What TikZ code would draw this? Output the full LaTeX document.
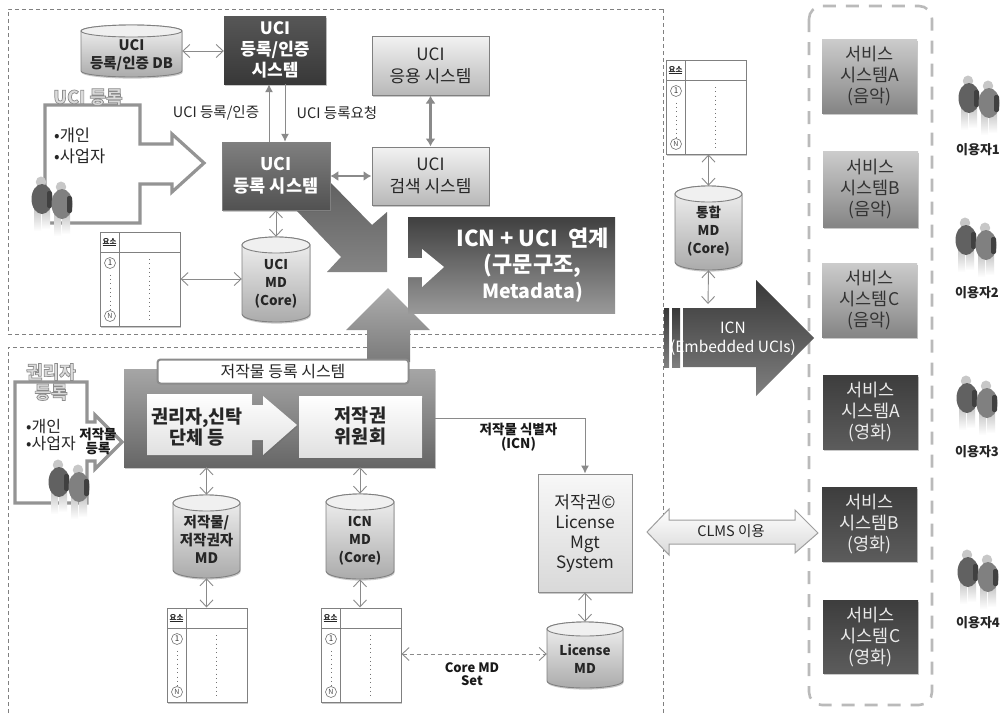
\documentclass[tikz,border=0pt]{standalone}
\usepackage{fontspec}
\setmainfont{Noto Sans CJK KR}
\usetikzlibrary{arrows.meta,shadows,calc}
\newcommand{\fs}[2]{\fontsize{#1}{#2}\selectfont}
\newcommand{\glowtext}[1]{\special{pdf:code q 2 Tr 0.7 w 0.55 G 0.86 g}#1\special{pdf:code Q}}
\definecolor{ln}{HTML}{8A8A8A}
\tikzset{
  x=1pt,y=-1pt,
  softshadow/.style={drop shadow={shadow xshift=0.6pt,shadow yshift=-1.6pt,opacity=.35,fill=black!60}},
  basebox/.style={rectangle,inner sep=0pt,align=center,softshadow},
  darkbox/.style={basebox,top color=black!66,bottom color=black!78,text=white},
  midbox/.style={basebox,draw=black!50,line width=.5pt,top color=black!50,bottom color=black!68,text=white},
  lightbox/.style={basebox,draw=black!50,line width=1pt,top color=black!5,bottom color=black!28,text=black!85},
  svclight/.style={basebox,top color=black!20,bottom color=black!48,text=black!80},
  svcdark/.style={basebox,top color=black!76,bottom color=black!64,text=black!8},
  dashbox/.style={draw=black!50,line width=.6pt,dash pattern=on 4pt off 3pt},
  openboth/.style={draw=ln,line width=.9pt,{Straight Barb[length=7pt,width=13pt]}-{Straight Barb[length=7pt,width=13pt]}},
  filltip/.style={draw=ln,line width=1pt,-{Latex[length=8pt,width=8pt]}},
  thickboth/.style={draw=ln,line width=2.6pt,{Latex[length=8pt,width=10pt]}-{Latex[length=8pt,width=10pt]}},
  label12/.style={font=\fs{14.5}{15},align=center,inner sep=0pt,text=black!85},
  bold12/.style={font=\bfseries\fs{13.5}{12},align=center,inner sep=0pt,text=black!90},
  outlinearrow/.style={draw=black!42,line width=3.2pt,fill=white,line join=miter},
  glowlabel/.style={font=\bfseries\fs{18}{20},align=center,inner sep=0pt},
  userlabel/.style={font=\bfseries\fs{13}{14},inner sep=0pt,text=black!85},
}
% one standing figure: head at origin of the scope
\newcommand{\onefig}[3]{%
  \begin{scope}[shift={(#1,#2)}]
    \shade[top color=black!25,bottom color=white] (-7,24) rectangle (0,49);
    \shade[top color=black!25,bottom color=white] (1,24) rectangle (9,47);
    \fill[black!22] (0,0) ellipse[x radius=5.2pt,y radius=5.5pt];
    \fill[#3] (1,17) ellipse[x radius=10.5pt,y radius=15pt];
    \fill[black!75,rounded corners=2pt] (6,9) rectangle (11,26);
  \end{scope}}
\newcommand{\people}[2]{%
  \onefig{#1}{#2}{black!62}%
  \onefig{\the\numexpr#1+20\relax}{\the\numexpr#2+5\relax}{black!50}}
% cylinder: name, x0,y0,x1,y1, ry, text, yoffset
\newcommand{\cyl}[9]{%
  \pgfmathsetmacro\cw{(#4-#2)/2}%
  \pgfmathsetmacro\cx{(#2+#4)/2}%
  \pgfmathsetmacro\cy{(#3+#5)/2}%
  \pgfmathsetmacro\ch{#5-#3}%
  \pgfmathsetmacro\cwd{#4-#2}%
  \path[draw=black!50,line width=.9pt,top color=black!5,bottom color=black!33,softshadow]
    (#2,#3+#6) -- (#2,#5-#6)
    arc[start angle=180,end angle=360,x radius=\cw pt,y radius=#6pt]
    -- (#4,#3+#6)
    arc[start angle=0,end angle=180,x radius=\cw pt,y radius=#6pt] -- cycle;
  \draw[black!50,line width=.9pt,fill=black!6] (\cx,#3+#6) ellipse[x radius=\cw pt,y radius=#6pt];
  \node[rectangle,inner sep=0pt,minimum width=\cwd pt,minimum height=\ch pt] (#1) at (\cx,\cy) {};
  \node[font=\bfseries\fs{#9}{18},align=center,inner sep=0pt,text=black!85] (#1t) at (\cx,\cy+#8) {#7};}
% metadata table: name, left, top
\newcommand{\mdtable}[3]{%
  \node[rectangle,draw=black!50,line width=1pt,fill=white,inner sep=0pt,minimum width=80pt,minimum height=94pt,softshadow] (#1) at (#2+40,#3+47) {};
  \draw[black!50,line width=1pt] (#2,#3+20) -- (#2+80,#3+20) (#2+19,#3) -- (#2+19,#3+94);
  \node[font=\bfseries\fs{7.5}{8},inner sep=0pt,text=black!85] (#1h) at (#2+9.5,#3+10) {\underline{요소}};
  \node[circle,draw=black!55,line width=.6pt,minimum size=11pt,inner sep=0pt,font=\fs{8}{8},text=black!80] (#1a) at (#2+10,#3+31) {1};
  \node[circle,draw=black!55,line width=.6pt,minimum size=11pt,inner sep=0pt,font=\fs{7}{8},text=black!70] (#1n) at (#2+10,#3+84) {N};
  \draw[black!55,line width=.7pt,dash pattern=on .8pt off 3.5pt] (#1a.south) ++(0,6) -- (#1n.north);
  \draw[black!55,line width=.7pt,dash pattern=on .8pt off 3.5pt] (#2+49,#3+27) -- (#2+49,#3+88);}
\begin{document}
\begin{tikzpicture}
\useasboundingbox (0,0) rectangle (1004,713);
\fill[white] (0,0) rectangle (1004,713);
% region frames
\draw[dashbox] (663,334) -- (8,334) -- (8,9) -- (663,9);
\draw[dashbox] (663,9) -- (663,713);
\draw[dashbox] (8,713) -- (8,347) -- (663,347);
\draw[draw=black!27,line width=2.6pt,dash pattern=on 13pt off 10pt,rounded corners=13pt] (809,6) rectangle (932,705);

% outlined entry arrows
\draw[outlinearrow] (45,105) -- (140,105) -- (140,144) -- (172,144) -- (172,134) -- (204,163) -- (172,192) -- (172,184) -- (140,184) -- (140,223) -- (45,223) -- cycle;
\draw[outlinearrow] (15,382) -- (87,382) -- (87,422) -- (95,422) -- (95,415) -- (122,442) -- (95,469) -- (95,461) -- (87,461) -- (87,503) -- (15,503) -- cycle;

% large block arrows
\path[top color=black!62,bottom color=black!48] (331,183) -- (372,225) -- (387,212) -- (387,272) -- (327,272) -- (341,257) -- (296,210) -- cycle;
\path[top color=black!32,bottom color=black!52] (388,288) -- (430,330) -- (410,330) -- (410,362) -- (367,362) -- (367,330) -- (346,330) -- cycle;
\path[top color=black!78,bottom color=black!50] (683,308) -- (756,308) -- (756,280) -- (814,338) -- (756,396) -- (756,367) -- (683,367) -- cycle;
\path[top color=black!78,bottom color=black!50] (664,308) rectangle (669,367);
\path[top color=black!78,bottom color=black!50] (672,308) rectangle (680,367);
\node[font=\fs{15.5}{19},align=center,text=white,inner sep=0pt] (icnlabel) at (733,338.5) {ICN\\(Embedded UCIs)};

% upper area nodes
\cyl{db}{81}{25}{182}{77}{6}{UCI\\등록/인증 DB}{4}{14.5}
\node[darkbox,minimum width=102pt,minimum height=68pt,font=\bfseries\fs{17}{21}] (auth) at (275,50) {UCI\\등록/인증\\시스템};
\node[midbox,minimum width=108pt,minimum height=68pt,font=\bfseries\fs{17.5}{22}] (reg) at (276,176) {UCI\\등록 시스템};
\node[lightbox,minimum width=117pt,minimum height=59pt,font=\fs{17}{22}] (app) at (430.5,65.5) {UCI\\응용 시스템};
\node[lightbox,minimum width=117pt,minimum height=58pt,font=\fs{17}{22}] (search) at (430.5,176) {UCI\\검색 시스템};
\node[rectangle,inner sep=0pt,top color=black!75,bottom color=black!40,minimum width=207pt,minimum height=96pt,font=\bfseries\fs{22}{26},align=center,text=white] (link) at (511.5,265) {\hspace*{42pt}ICN + UCI\ \ 연계\\\hspace*{42pt}(구문구조,\\\hspace*{42pt}{\fs{19.5}{26}Metadata)}};
\fill[white] (408,258) -- (422,258) -- (422,249) -- (444,267) -- (422,287) -- (422,277) -- (408,277) -- cycle;
\cyl{ucimd}{242}{237}{310}{322}{8}{UCI\\MD\\(Core)}{4.5}{13.5}
\mdtable{t1}{100}{232}
\mdtable{t2}{666}{60}
\cyl{tong}{675}{186}{742}{270}{8}{통합\\MD\\(Core)}{3}{13.5}

% upper labels
\node[label12] (lab1) at (216,113) {UCI 등록/인증};
\node[label12] (lab2) at (337,113) {UCI 등록요청};
\node[glowlabel] (entry1) at (88,97) {\glowtext{UCI 등록}};
\node[font=\fs{16.5}{21},align=left,inner sep=0pt,text=black!85,anchor=west] (who1) at (54,146) {•개인\\•사업자};
\people{41}{182}

% upper connectors
\draw[openboth] (db.east) -- (auth.west |- db.east);
\draw[filltip] ([xshift=-7pt]reg.north) -- ([xshift=-6pt]auth.south);
\draw[filltip] ([xshift=10pt]auth.south) -- ([xshift=9pt]reg.north);
\draw[thickboth] (app.south) -- (search.north);
\draw[thickboth] (reg.east) -- (search.west |- reg.east);
\draw[openboth] (reg.south) -- (ucimd.north);
\draw[openboth] (t1.east) -- (ucimd.west |- t1.east);
\draw[openboth] (t2.south -| tong.north) -- (tong.north);
\draw[openboth] (tong.south) -- (708,304);

% registration system
\node[rectangle,inner sep=0pt,top color=black!35,bottom color=black!60,minimum width=311pt,minimum height=98pt,softshadow] (sys) at (279.5,418) {};
\node[rectangle,rounded corners=3pt,draw=black!45,line width=2pt,fill=white,minimum width=251pt,minimum height=24pt,inner sep=0pt,font=\fs{16}{16},text=black!85] (tab) at (283,371.5) {저작물 등록 시스템};
\path[top color=white,bottom color=black!12,softshadow] (147,394) -- (252,394) -- (252,405) -- (263,405) -- (263,396) -- (297,425) -- (263,455) -- (263,440) -- (252,440) -- (252,455) -- (147,455) -- cycle;
\node[font=\bfseries\fs{18.5}{21},align=center,inner sep=0pt,text=black!85] (holder) at (197,427.5) {권리자,신탁\\단체 등};
\node[rectangle,inner sep=0pt,top color=white,bottom color=black!12,minimum width=123pt,minimum height=61pt,font=\bfseries\fs{18.5}{21},align=center,text=black!85,softshadow] (comm) at (360.5,426.5) {저작권\\위원회};

\node[glowlabel] (entry2) at (51,382) {\glowtext{권리자}\\\glowtext{등록}};
\node[font=\fs{16}{17},align=left,inner sep=0pt,text=black!85,anchor=west] (who2) at (26,434.5) {•개인\\•사업자};
\people{58}{465}
\node[font=\bfseries\fs{13.5}{12},align=center,inner sep=0pt,text=black!90] (regwork) at (98,441.5) {저작물\\등록};

% lower nodes
\cyl{wmd}{173}{495}{240}{578}{8}{저작물/\\저작권자\\MD}{3}{14.5}
\cyl{imd}{326}{494}{394}{579}{8}{ICN\\MD\\(Core)}{4}{13.5}
\cyl{lmd}{547}{622}{623}{688}{7}{License\\MD}{4}{13.5}
\mdtable{t3}{167}{608}
\mdtable{t4}{321}{608}
\node[rectangle,inner sep=0pt,draw=black!45,line width=1pt,top color=black!3,bottom color=black!15,minimum width=94pt,minimum height=118pt,font=\fs{17}{20},align=center,text=black!85,softshadow] (clms) at (585,533) {저작권©\\License\\Mgt\\System};

% lower connectors
\draw[openboth] (sys.south -| wmd.north) -- (wmd.north);
\draw[openboth] (wmd.south) -- (t3.north -| wmd.south);
\draw[openboth] (sys.south -| imd.north) -- (imd.north);
\draw[openboth] (imd.south) -- (t4.north -| imd.south);
\draw[openboth] (clms.south) -- (lmd.north -| clms.south);
\draw[openboth,dash pattern=on 4pt off 3pt] (t4.east |- lmd.center) ++(0,-1) -- ($(lmd.west)+(0,-1)$);
\draw[filltip] (sys.east) -- (clms.north |- sys.east) -- (clms.north);
\node[bold12] (idlabel) at (518.5,437) {저작물 식별자\\(ICN)};
\node[font=\bfseries\fs{13}{12.5},align=center,inner sep=0pt,text=black!90] (setlabel) at (472,674) {Core MD\\Set};

% services
\node[svclight,minimum width=95pt,minimum height=74pt,font=\fs{17.5}{21}] (s1) at (869.5,76) {서비스\\시스템A\\(음악)};
\node[svclight,minimum width=95pt,minimum height=76pt,font=\fs{17.5}{21}] (s2) at (870.5,189) {서비스\\시스템B\\(음악)};
\node[svclight,minimum width=95pt,minimum height=74pt,font=\fs{17.5}{21}] (s3) at (869.5,300) {서비스\\시스템C\\(음악)};
\node[svcdark,minimum width=95pt,minimum height=74pt,font=\fs{17.5}{21}] (s4) at (870.5,412) {서비스\\시스템A\\(영화)};
\node[svcdark,minimum width=95pt,minimum height=74pt,font=\fs{17.5}{21}] (s5) at (869.5,524) {서비스\\시스템B\\(영화)};
\node[svcdark,minimum width=95pt,minimum height=73pt,font=\fs{17.5}{21}] (s6) at (870.5,636.5) {서비스\\시스템C\\(영화)};

% CLMS double arrow
\path[draw=black!38,line width=1pt,top color=white,bottom color=black!15] (647,532) -- (669,509) -- (669,520) -- (795,520) -- (795,510) -- (818,533) -- (795,553) -- (795,544) -- (669,544) -- (669,555) -- cycle;
\node[font=\fs{14.5}{15},inner sep=0pt,text=black!85] (clmsuse) at (731,531.5) {CLMS 이용};

% users
\people{968}{81}
\node[userlabel] (u1) at (978,150) {이용자1};
\people{965}{223}
\node[userlabel] (u2) at (977,293) {이용자2};
\people{966}{381}
\node[userlabel] (u3) at (977,452) {이용자3};
\people{967}{555}
\node[userlabel] (u4) at (978,623) {이용자4};
\end{tikzpicture}
\end{document}
